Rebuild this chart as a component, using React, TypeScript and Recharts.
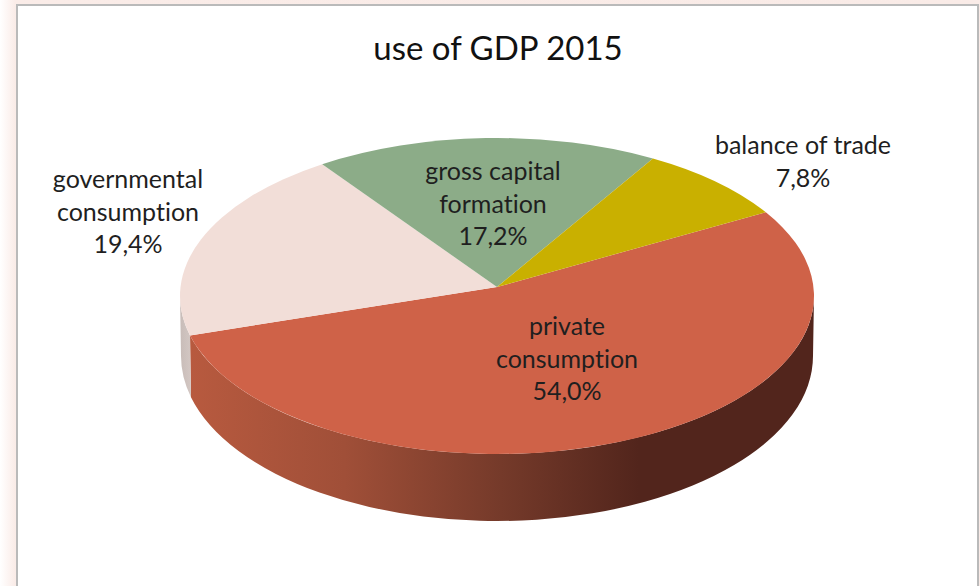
import { PieChart, Pie } from "recharts";

const categories = [
    ["private", "consumption"],
    ["governmental", "consumption"],
    ["gross capital", "formation"],
    ["balance of trade"],
];
const shares = [54.0, 19.4, 17.2, 7.8];
const COLORS = ["#cf6248", "#f2ded8", "#8cac88", "#c9b000"];
const WALLS = ["url(#wallPrivate)", "url(#wallGov)", "#777", "#777"];

// where each label sits (centre x, first line y)
const LABEL_SPOTS = [
    [567, 335],
    [128, 188],
    [493, 180],
    [803, 154],
];

const data = categories.map((lines, i) => ({
    name: lines.join(" "),
    lines,
    value: shares[i],
    fill: COLORS[i],
    wall: WALLS[i],
}));

const WIDTH = 980;
const HEIGHT = 586;
const SQUASH = 158 / 317;
const APEX_LIFT = 9;
const BASE_RX = 316;
const BASE_RY = 165;
const BASE_CY = 356;
const RAD = Math.PI / 180;

function PieSlice3D(props: any) {
    const { cx, cy, outerRadius, startAngle, endAngle, fill, payload } = props;
    const rx = outerRadius;
    const ry = outerRadius * SQUASH;
    const top = (a: number) => [cx + rx * Math.cos(a * RAD), cy - ry * Math.sin(a * RAD)];
    const base = (a: number) => [cx + BASE_RX * Math.cos(a * RAD), BASE_CY - BASE_RY * Math.sin(a * RAD)];

    const [sx, sy] = top(startAngle);
    const [ex, ey] = top(endAngle);
    const large = Math.abs(startAngle - endAngle) > 180 ? 1 : 0;
    const face = `M${cx},${cy - APEX_LIFT} L${sx},${sy} A${rx},${ry} 0 ${large} 1 ${ex},${ey} Z`;

    // only the part of the rim in the front half shows a wall
    const hi = Math.min(Math.max(startAngle, endAngle), 0);
    const lo = Math.max(Math.min(startAngle, endAngle), -180);
    let wall = null;
    if (hi > lo) {
        const [t1x, t1y] = top(hi);
        const [t2x, t2y] = top(lo);
        const [b1x, b1y] = base(hi);
        const [b2x, b2y] = base(lo);
        wall = (
            <path
                d={`M${t1x},${t1y} A${rx},${ry} 0 0 1 ${t2x},${t2y} L${b2x},${b2y} A${BASE_RX},${BASE_RY} 0 0 0 ${b1x},${b1y} Z`}
                fill={payload.wall ?? props.wall}
            />
        );
    }

    return (
        <g>
            <defs>
                <linearGradient id="wallPrivate" gradientUnits="userSpaceOnUse" x1="188" y1="0" x2="814" y2="0">
                    <stop offset="0" stopColor="#b85a3f" />
                    <stop offset="0.25" stopColor="#a04f38" />
                    <stop offset="0.5" stopColor="#753a2a" />
                    <stop offset="0.72" stopColor="#52251c" />
                    <stop offset="1" stopColor="#52251c" />
                </linearGradient>
                <linearGradient id="wallGov" gradientUnits="userSpaceOnUse" x1="181" y1="0" x2="190" y2="0">
                    <stop offset="0" stopColor="#c9bdb9" />
                    <stop offset="1" stopColor="#d2c6c2" />
                </linearGradient>
            </defs>
            {wall}
            <path d={face} fill={fill} />
        </g>
    );
}

function SliceLabel(props: any) {
    const { index, value, payload } = props;
    const [x, y] = LABEL_SPOTS[index];
    const lines: string[] = payload?.lines ?? categories[index];
    return (
        <text
            x={x}
            y={y}
            textAnchor="middle"
            fontSize={25}
            fill="#1f1f1f"
            fontFamily="Lato"
            style={{ fontVariantLigatures: "none" }}
        >
            {lines.map((line, i) => (
                <tspan key={i} x={x} dy={i === 0 ? 0 : 32.5}>
                    {line}
                </tspan>
            ))}
            <tspan x={x} dy={32.5}>
                {value.toFixed(1).replace(".", ",") + "%"}
            </tspan>
        </text>
    );
}

export default function App() {
    return (
        <div
            style={{
                position: "absolute",
                left: 0,
                top: 0,
                width: WIDTH,
                height: HEIGHT,
                overflow: "hidden",
                background: "linear-gradient(90deg, #ffffff 0px, #faece8 15px, #f9ebe7 100%)",
            }}
        >
            <div
                style={{
                    position: "absolute",
                    left: 16,
                    top: 4,
                    width: 959,
                    height: 600,
                    background: "#fff",
                    border: "2px solid #bababa",
                }}
            />
            <div style={{ position: "absolute", left: 0, top: 0 }}>
                <PieChart width={WIDTH} height={HEIGHT} margin={{ top: 0, right: 0, bottom: 0, left: 0 }}>
                    <text x={498} y={60} textAnchor="middle" fontSize={33} fill="#111" fontFamily="Lato">
                        use of GDP 2015
                    </text>
                    <Pie
                        data={data}
                        dataKey="value"
                        cx={497}
                        cy={296}
                        innerRadius={0}
                        outerRadius={317}
                        startAngle={32}
                        endAngle={-328}
                        stroke="none"
                        shape={PieSlice3D}
                        label={SliceLabel}
                        labelLine={false}
                        isAnimationActive={false}
                    />
                </PieChart>
            </div>
        </div>
    );
}
